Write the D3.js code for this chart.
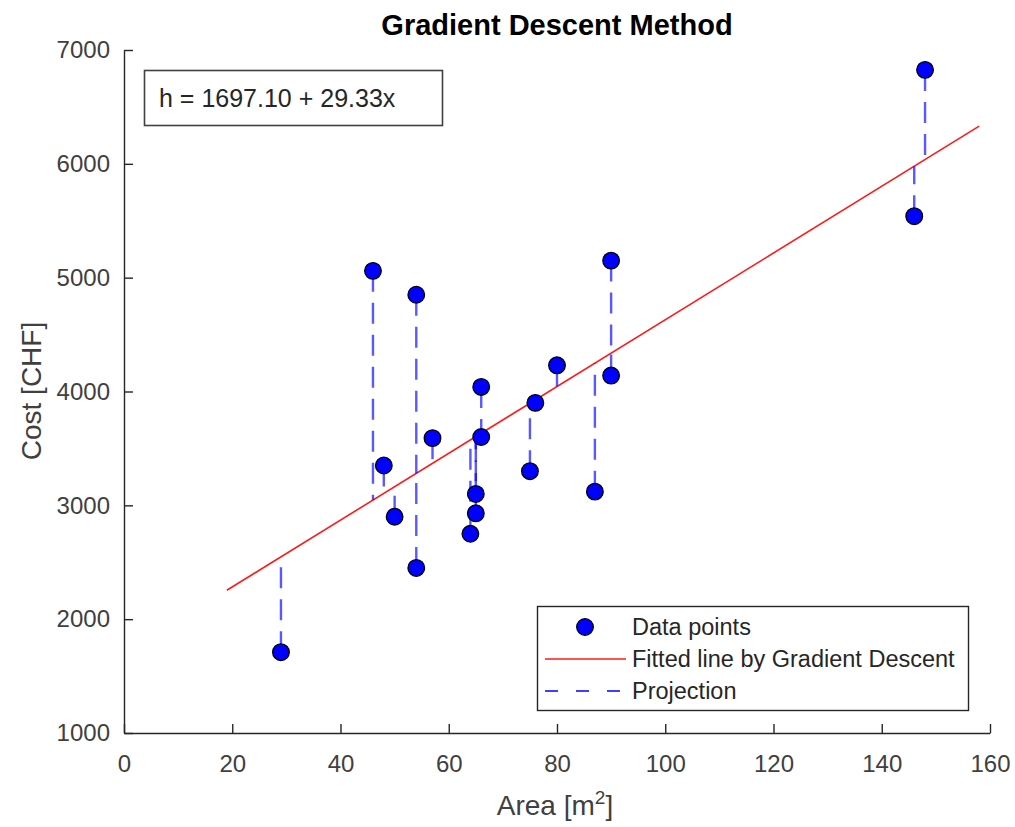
<!DOCTYPE html>
<html>
<head>
<meta charset="utf-8">
<script src="https://cdn.jsdelivr.net/npm/d3@7"></script>
<style>
 body { margin: 0; background: #fff; }
 text { font-family: "Liberation Sans", Arial, Helvetica, sans-serif; }
</style>
</head>
<body>
<div id="chart"></div>
<script>
// data
var area = [29, 46, 48, 50, 54, 54, 57, 64, 65, 65, 66, 66, 75, 76, 80, 87, 90, 90, 146, 148];
var cost = [1710, 5060, 3350, 2900, 4850, 2450, 3590, 2750, 3100, 2930, 4040, 3600, 3300, 3900, 4230, 3120, 5150, 4140, 5540, 6825];
var theta0 = 1697.10;
var theta1 = 29.33;
var fitRange = [19, 158];
var xTicks = [0, 20, 40, 60, 80, 100, 120, 140, 160];
var yTicks = [1000, 2000, 3000, 4000, 5000, 6000, 7000];
var legendLabels = ["Data points", "Fitted line by Gradient Descent", "Projection"];

var w = 1015, h = 827;
var svg = d3.select("#chart").append("svg").attr("width", w).attr("height", h);

var x = d3.scaleLinear().domain([0, 160]).range([124, 990]);
var y = d3.scaleLinear().domain([1000, 7000]).range([733, 50]);
var predict = function(a){ return theta0 + theta1 * a; };

var axisColor = "#262626";

// axes (MATLAB style, ticks inside)
var xAxis = svg.append("g").attr("transform", "translate(0," + y(1000) + ")")
  .call(d3.axisBottom(x).tickValues(xTicks).tickFormat(d3.format("d"))
    .tickSize(-9).tickPadding(22).tickSizeOuter(0));
var yAxis = svg.append("g").attr("transform", "translate(" + x(0) + ",0)")
  .call(d3.axisLeft(y).tickValues(yTicks).tickFormat(d3.format("d"))
    .tickSize(-9).tickPadding(14).tickSizeOuter(0));
[xAxis, yAxis].forEach(function(g){
  g.select(".domain").attr("stroke", axisColor).attr("stroke-width", 1.4);
  g.selectAll(".tick line").attr("stroke", axisColor).attr("stroke-width", 1.4);
  g.selectAll(".tick text").attr("fill", "#404040").style("font-size", "24px")
   .style("font-family", "'Liberation Sans', Arial, sans-serif");
});
xAxis.selectAll(".tick text").attr("dy", "0.71em");

// fitted line
svg.append("line")
  .attr("x1", x(fitRange[0])).attr("y1", y(predict(fitRange[0])))
  .attr("x2", x(fitRange[1])).attr("y2", y(predict(fitRange[1])))
  .attr("stroke", "#ff1a1a").attr("stroke-width", 1.6);

// projections
svg.selectAll("line.proj")
  .data(area)
  .enter()
  .append("line")
  .attr("class", "proj")
  .attr("x1", function(d){ return x(d); })
  .attr("x2", function(d){ return x(d); })
  .attr("y1", function(d, i){ return y(cost[i]); })
  .attr("y2", function(d){ return y(predict(d)); })
  .attr("stroke", "#0000ff").attr("stroke-opacity", 0.65)
  .attr("stroke-width", 2.4)
  .attr("stroke-dasharray", "21,11");

// data points
svg.selectAll("circle.pt")
  .data(area)
  .enter()
  .append("circle")
  .attr("class", "pt")
  .attr("cx", function(d){ return x(d); })
  .attr("cy", function(d, i){ return y(cost[i]); })
  .attr("r", 8.3)
  .attr("fill", "#0000ff")
  .attr("stroke", "#000").attr("stroke-width", 1.3);

// title
svg.append("text").attr("x", 557).attr("y", 35).attr("text-anchor", "middle")
  .style("font-size", "29px").style("font-weight", "bold").attr("fill", "#000")
  .text("Gradient Descent Method");

// axis labels
var xl = svg.append("text").attr("x", 555).attr("y", 815).attr("text-anchor", "middle")
  .style("font-size", "28px").attr("fill", "#404040");
xl.append("tspan").text("Area [m");
xl.append("tspan").attr("dy", -11).style("font-size", "19px").text("2");
xl.append("tspan").attr("dy", 11).text("]");

svg.append("text").attr("transform", "translate(41,391) rotate(-90)")
  .attr("text-anchor", "middle").style("font-size", "28px").attr("fill", "#404040")
  .text("Cost [CHF]");

// equation box
svg.append("rect").attr("x", 144.5).attr("y", 70.5).attr("width", 298).attr("height", 55)
  .attr("fill", "#fff").attr("stroke", "#404040").attr("stroke-width", 1.6);
svg.append("text").attr("x", 159).attr("y", 107).style("font-size", "25px").attr("fill", "#262626")
  .text("h = " + theta0.toFixed(2) + " + " + theta1.toFixed(2) + "x");

// legend
var lg = svg.append("g");
lg.append("rect").attr("x", 537.5).attr("y", 606.5).attr("width", 431).attr("height", 104)
  .attr("fill", "#fff").attr("stroke", "#262626").attr("stroke-width", 1.4);
var rowY = [627, 659, 691];
lg.append("circle").attr("cx", 585).attr("cy", rowY[0]).attr("r", 8.3)
  .attr("fill", "#0000ff").attr("stroke", "#000").attr("stroke-width", 1.3);
lg.append("line").attr("x1", 545).attr("x2", 626).attr("y1", rowY[1]).attr("y2", rowY[1])
  .attr("stroke", "#ff1a1a").attr("stroke-width", 1.6);
lg.append("line").attr("x1", 545).attr("x2", 626).attr("y1", rowY[2]).attr("y2", rowY[2])
  .attr("stroke", "#0000ff").attr("stroke-width", 1.6).attr("stroke-dasharray", "13,18");
lg.selectAll("text.lab")
  .data(legendLabels)
  .enter()
  .append("text")
  .attr("class", "lab")
  .attr("x", 632)
  .attr("y", function(d, i){ return rowY[i] + 8; })
  .style("font-size", "23.5px").attr("fill", "#262626")
  .text(function(d){ return d; });
</script>
</body>
</html>
